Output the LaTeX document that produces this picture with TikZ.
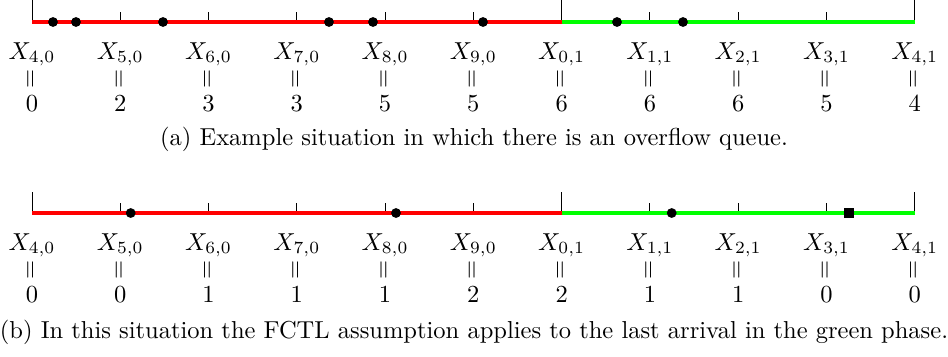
\documentclass[tikz,border=0pt]{standalone}
\usepackage{graphicx}
\begin{document}
\begin{tikzpicture}[x=0.408pt,y=-0.408pt,
  tickline/.style={line width=0.4pt,black},
  redline/.style={line width=1.6pt,red},
  greenline/.style={line width=1.6pt,green},
  arrival/.style={circle,fill=black,inner sep=0pt,minimum size=4pt},
  lastarrival/.style={rectangle,fill=black,inner sep=0pt,minimum size=4pt},
  lbl/.style={inner sep=0pt,anchor=base}]
\useasboundingbox (0,0) rectangle (948,356);
% ---------- (a) ----------
\foreach \i/\s/\v in {0/{4,0}/0,1/{5,0}/2,2/{6,0}/3,3/{7,0}/3,4/{8,0}/5,5/{9,0}/5,6/{0,1}/6,7/{1,1}/6,8/{2,1}/6,9/{3,1}/5,10/{4,1}/4}{
  \coordinate (t\i) at ({32+88.27*\i},22);
  \coordinate (tt\i) at ({32+88.27*\i},12);
  \node[lbl] (tx\i) at ({32+88.27*\i},59) {$X_{\s}$};
  \node[inner sep=0pt] (te\i) at ({32+88.27*\i},79) {\rotatebox{90}{$=$}};
  \node[lbl] (tv\i) at ({32+88.27*\i},111) {$\v$};
}
\coordinate (ttop0) at (32,0);
\coordinate (ttop6) at ({32+88.27*6},0);
\coordinate (ttop10) at ({32+88.27*10},0);
\foreach \i in {1,2,3,4,5,7,8,9} \draw[tickline] (tt\i) -- (t\i);
\foreach \i in {0,6,10} \draw[tickline] (ttop\i) -- (t\i);
\draw[redline] (t0) -- (t6);
\draw[greenline] (t6) -- (t10);
\foreach \x [count=\n] in {53,76,163,329,373,483,617,683}
  \node[arrival] (ta\n) at (\x,22) {};
\node[lbl] (capa) at (474,145) {(a) Example situation in which there is an overflow queue.};
% ---------- (b) ----------
\foreach \i/\s/\v in {0/{4,0}/0,1/{5,0}/0,2/{6,0}/1,3/{7,0}/1,4/{8,0}/1,5/{9,0}/2,6/{0,1}/2,7/{1,1}/1,8/{2,1}/1,9/{3,1}/0,10/{4,1}/0}{
  \coordinate (b\i) at ({32+88.27*\i},213);
  \coordinate (bt\i) at ({32+88.27*\i},203);
  \node[lbl] (bx\i) at ({32+88.27*\i},250) {$X_{\s}$};
  \node[inner sep=0pt] (be\i) at ({32+88.27*\i},270) {\rotatebox{90}{$=$}};
  \node[lbl] (bv\i) at ({32+88.27*\i},302) {$\v$};
}
\coordinate (btop0) at (32,192);
\coordinate (btop6) at ({32+88.27*6},192);
\coordinate (btop10) at ({32+88.27*10},192);
\foreach \i in {1,2,3,4,5,7,8,9} \draw[tickline] (bt\i) -- (b\i);
\foreach \i in {0,6,10} \draw[tickline] (btop\i) -- (b\i);
\draw[redline] (b0) -- (b6);
\draw[greenline] (b6) -- (b10);
\foreach \x [count=\n] in {130.7,396,671.7}
  \node[arrival] (ba\n) at (\x,213) {};
\node[lastarrival] (bsq) at (849,213) {};
\node[lbl] (capb) at (474,338) {(b) In this situation the FCTL assumption applies to the last arrival in the green phase.};
\end{tikzpicture}
\end{document}
